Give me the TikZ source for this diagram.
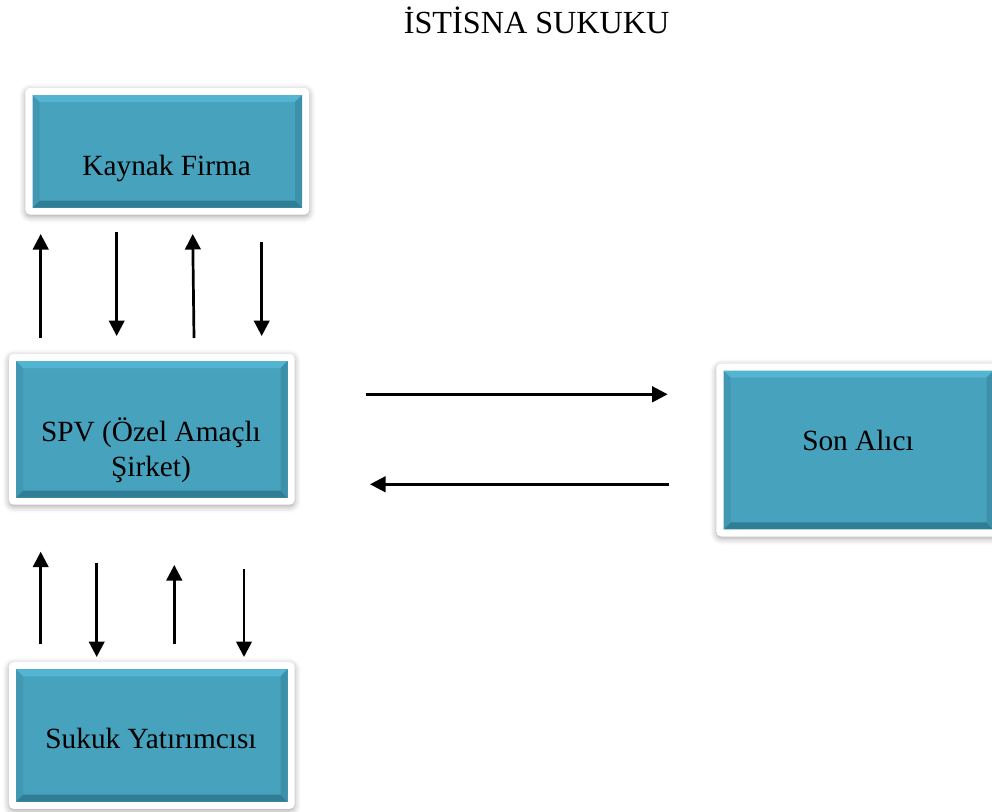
\documentclass[tikz,border=0pt]{standalone}
\usepackage{fontspec}
\setmainfont{Liberation Serif}
\usetikzlibrary{arrows.meta,calc,shadows.blur,backgrounds}

\definecolor{tealmain}{RGB}{71,162,189}
\definecolor{tealtop}{RGB}{84,181,210}
\definecolor{tealleft}{RGB}{66,152,178}
\definecolor{tealright}{RGB}{60,144,170}
\definecolor{tealbottom}{RGB}{48,126,150}

\tikzset{
  card/.style={draw=none, fill=tealmain, inner sep=0pt,
    path picture={
      \coordinate (pnw) at (path picture bounding box.north west);
      \coordinate (pne) at (path picture bounding box.north east);
      \coordinate (psw) at (path picture bounding box.south west);
      \coordinate (pse) at (path picture bounding box.south east);
      \fill[tealtop] (pnw) -- (pne) -- ($(pne)+(-7,7)$) -- ($(pnw)+(7,7)$) -- cycle;
      \fill[tealbottom] (psw) -- (pse) -- ($(pse)+(-7,-7)$) -- ($(psw)+(7,-7)$) -- cycle;
      \fill[tealleft] (pnw) -- ($(pnw)+(7,7)$) -- ($(psw)+(7,-7)$) -- (psw) -- cycle;
      \fill[tealright] (pne) -- ($(pne)+(-7,7)$) -- ($(pse)+(-7,-7)$) -- (pse) -- cycle;
    }},
  frame/.style={fill=white, rounded corners=5pt,
    blur shadow={shadow xshift=0pt, shadow yshift=-2pt,
      shadow blur radius=6pt, shadow opacity=35}},
  lbl/.style={inner sep=0pt, font=\fontsize{29.3}{35}\selectfont, align=center},
  flow/.style={line width=2.7pt, -{Triangle[length=15.5pt,width=15.5pt]}},
}

\begin{document}
\begin{tikzpicture}[x=1pt,y=-1pt]
\useasboundingbox (0,0) rectangle (992,811);

% title
\node[lbl, anchor=base, font=\fontsize{32.2}{38}\selectfont] (title) at (536.7,33.3) {İSTİSNA SUKUKU};

% the four parties
\node[card, minimum width=269.5, minimum height=112.5] (kf) at (167.25,151.25) {};
\node[card, minimum width=271.5, minimum height=136.5] (spv) at (151.75,429.25) {};
\node[card, minimum width=270, minimum height=158.6] (son) at (858.5,450) {};
\node[card, minimum width=271.5, minimum height=132.4] (sy) at (151.75,735.5) {};

% white frames behind the boxes
\begin{scope}[on background layer]
  \foreach \b in {kf,spv,son,sy}
    \fill[frame] ($(\b.north west)+(-7,-7)$) rectangle ($(\b.south east)+(7,7)$);
\end{scope}

% box texts (base of a two-line node is the baseline of its last line)
\node[lbl, anchor=base] (kft) at (166.7,175) {Kaynak Firma};
\node[lbl, anchor=base] (spvt) at (151,476.7) {SPV (Özel Amaçlı\\Şirket)};
\node[lbl, anchor=base] (sont) at (858,450) {Son Alıcı};
\node[lbl, anchor=base] (syt) at (151,748.3) {Sukuk Yatırımcısı};

% flows between SPV and Kaynak Firma
\coordinate (u1a) at (40.7,338);  \coordinate (u1b) at (40.7,234);
\coordinate (d1a) at (116.7,232); \coordinate (d1b) at (116.7,336);
\coordinate (u2a) at (194,338);   \coordinate (u2b) at (192.7,234);
\coordinate (d2a) at (261.7,242); \coordinate (d2b) at (261.7,336);
\draw[flow] (u1a) -- (u1b);
\draw[flow] (d1a) -- (d1b);
\draw[flow] (u2a) -- (u2b);
\draw[flow] (d2a) -- (d2b);

% flows between SPV and Sukuk Yatırımcısı
\coordinate (u3a) at (40.7,644);  \coordinate (u3b) at (40.7,551.7);
\coordinate (d3a) at (96.7,563);  \coordinate (d3b) at (96.7,657);
\coordinate (u4a) at (174.3,644); \coordinate (u4b) at (174.3,565);
\coordinate (d4a) at (244,569);   \coordinate (d4b) at (244,657);
\draw[flow] (u3a) -- (u3b);
\draw[flow] (d3a) -- (d3b);
\draw[flow] (u4a) -- (u4b);
\draw[flow] (d4a) -- (d4b);

% flows between SPV and Son Alıcı
\coordinate (r1a) at (365.7,394.3); \coordinate (r1b) at (667.7,394.3);
\coordinate (l1a) at (669,484.3);   \coordinate (l1b) at (370,484.3);
\draw[flow] (r1a) -- (r1b);
\draw[flow] (l1a) -- (l1b);
\end{tikzpicture}
\end{document}
